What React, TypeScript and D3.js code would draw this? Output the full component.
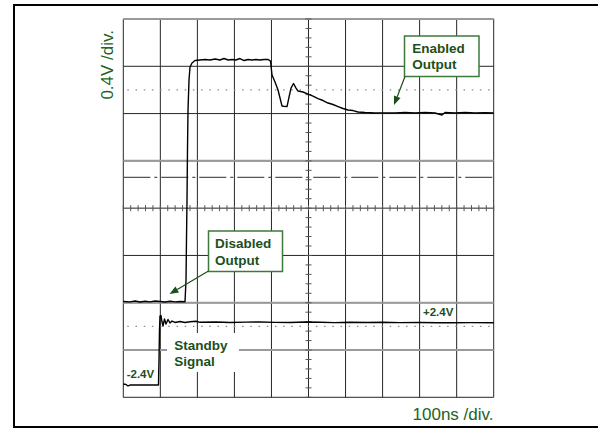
import React from 'react';
import * as d3 from 'd3';

// Time axis in ns (100 ns / div), vertical axis in screen divisions (0.4 V / div)
const timeTicks = d3.range(0, 1001, 100);
const divTicks = d3.range(0, 9, 1);
const emphasizedDivs = [1, 2, 5, 8];
const dottedLevels = [6.5, 1.5];
const dashDotLevel = 4.65;

const xLabel = '100ns /div.';
const yLabel = '0.4V /div.';

// "Enabled / Disabled Output" trace
const outputTime = [
  0, 18, 32, 45, 59, 72, 86, 99, 113, 126, 140, 153, 166.6, 169.3, 170.6, 172, 173.3, 174.7, 177.4, 180.1,
  185.5, 193.6, 207, 221, 234, 248, 261, 272, 283, 294, 304, 315, 326, 337, 348, 358, 369, 380, 391, 397.4,
  401.5, 409.6, 417.7, 423.1, 428.5, 433.9, 442, 447.4, 452.8, 459.5, 466.3, 471.7, 485.2, 498.7, 512.2,
  525.7, 539.2, 552.7, 566.2, 579.7, 593.2, 606.7, 620.1, 633.6, 652.5, 679.5, 706.5, 733.5, 760.5, 787.5,
  814.5, 841.5, 860.4, 868.5, 895.5, 922.5, 949.5, 976.5, 1000,
];
const outputDiv = [
  2.026, 2.019, 2.036, 2.015, 2.032, 2.019, 2.036, 2.026, 2.015, 2.03, 2.019, 2.026, 2.022, 2.48, 3.326, 4.172, 5.229, 6.075, 6.71, 6.985,
  7.07, 7.122, 7.133, 7.143, 7.133, 7.154, 7.133, 7.164, 7.133, 7.143, 7.133, 7.164, 7.122, 7.143, 7.133, 7.143, 7.133, 7.143, 7.143, 7.111,
  6.815, 6.667, 6.498, 6.329, 6.16, 6.153, 6.149, 6.35, 6.54, 6.636, 6.54, 6.477, 6.456, 6.413, 6.371,
  6.318, 6.276, 6.223, 6.192, 6.149, 6.107, 6.075, 6.064, 6.033, 6.022, 6.012, 6.012, 6.012, 6.022, 6.012,
  6.022, 6.012, 5.97, 6.022, 6.012, 6.022, 6.012, 6.016, 6.012,
];

// "Standby Signal" trace
const standbyTime = [
  0, 7.3, 12.7, 18.1, 31.6, 58.6, 85.6, 95, 96.4, 97.7, 99.1, 101.8, 104.5, 107.2, 111.2, 115.3, 120.7, 126.1,
  131.5, 139.6, 153.1, 166.6, 180.1, 196.3, 207.1, 250, 288.1, 330, 369.1, 410, 450.1, 490, 531.1, 570, 612.1,
  660, 700, 747, 800, 850, 882, 940, 1000,
];
const standbyDiv = [
  0.281, 0.271, 0.239, 0.26, 0.26, 0.26, 0.26, 0.26, 0.789, 1.423, 1.719, 1.73, 1.592, 1.508, 1.656, 1.55, 1.645, 1.571,
  1.613, 1.582, 1.603, 1.582, 1.597, 1.609, 1.586, 1.592, 1.582, 1.59, 1.592, 1.584, 1.582, 1.592, 1.586, 1.58, 1.586,
  1.582, 1.586, 1.58, 1.582, 1.578, 1.578, 1.58, 1.578,
];

const GREEN_AXIS = '#236323';
const GREEN_TEXT = '#1b4f1b';
const GREEN_BORDER = '#3c7a3c';
const FONT = '"Liberation Sans", Arial, Helvetica, sans-serif';

function Arrow({ x1, y1, x2, y2 }: { x1: number; y1: number; x2: number; y2: number }) {
  const ang = Math.atan2(y2 - y1, x2 - x1);
  const len = 9;
  const half = 3.5;
  const bx = x2 - len * Math.cos(ang);
  const by = y2 - len * Math.sin(ang);
  const px = -Math.sin(ang) * half;
  const py = Math.cos(ang) * half;
  return (
    <g>
      <line x1={x1} y1={y1} x2={bx} y2={by} stroke={GREEN_TEXT} strokeWidth={1.2} />
      <polygon points={`${x2},${y2} ${bx + px},${by + py} ${bx - px},${by - py}`} fill={GREEN_TEXT} />
    </g>
  );
}

export default function App() {
  const W = 598;
  const H = 429;
  const x = d3.scaleLinear().domain([0, 1000]).range([123.3, 493.7]);
  const y = d3.scaleLinear().domain([0, 8]).range([397.3, 19]);

  const line = d3
    .line<[number, number]>()
    .x((d) => x(d[0]))
    .y((d) => y(d[1]))
    .curve(d3.curveLinear);

  const outputPts: [number, number][] = outputTime.map((t, i) => [t, outputDiv[i]]);
  const standbyPts: [number, number][] = standbyTime.map((t, i) => [t, standbyDiv[i]]);

  const minorX = d3.range(0, 1000.1, 20);
  const minorY = d3.range(0, 8.01, 0.2);

  return (
    <svg width={W} height={H} style={{ position: 'absolute', left: 0, top: 0, background: '#fff' }} fontFamily={FONT}>
      <rect x={0} y={0} width={W} height={H} fill="#fff" />
      {/* outer frame */}
      <rect x={14} y={5} width={620} height={422} fill="none" stroke="#000" strokeWidth={2} />

      {/* grid */}
      {timeTicks.map((t) => (
        <line key={'v' + t} x1={x(t)} x2={x(t)} y1={y(0)} y2={y(8)} stroke="#262626" strokeWidth={1} />
      ))}
      {divTicks.map((d) => (
        <line key={'h' + d} x1={x(0)} x2={x(1000)} y1={y(d)} y2={y(d)} stroke="#262626" strokeWidth={1} />
      ))}
      {emphasizedDivs.map((d) => (
        <line key={'e' + d} x1={x(0)} x2={x(1000)} y1={y(d)} y2={y(d)} stroke="#9a9a9a" strokeWidth={2} />
      ))}
      {dottedLevels.map((d) => (
        <line key={'d' + d} x1={x(0) + 4} x2={x(1000)} y1={y(d)} y2={y(d)} stroke="#8a8a8a" strokeWidth={1.2} strokeDasharray="1.5 6.7" />
      ))}
      <line x1={x(0)} x2={x(1000)} y1={y(dashDotLevel)} y2={y(dashDotLevel)} stroke="#555" strokeWidth={1.2} strokeDasharray="27 4 3 4" />

      {/* center graticule ticks */}
      {minorX.map((t) => (
        <line key={'mx' + t} x1={x(t)} x2={x(t)} y1={y(4) - 3} y2={y(4) + 3} stroke="#555" strokeWidth={1} />
      ))}
      {minorY.map((d) => (
        <line key={'my' + d.toFixed(1)} x1={x(500) - 3} x2={x(500) + 3} y1={y(d)} y2={y(d)} stroke="#555" strokeWidth={1} />
      ))}

      {/* traces */}
      <path d={line(outputPts) || ''} fill="none" stroke="#000" strokeWidth={1.4} strokeLinejoin="round" />
      <path d={line(standbyPts) || ''} fill="none" stroke="#000" strokeWidth={1.4} strokeLinejoin="round" />

      {/* axis labels */}
      <text x={493.5} y={419.5} textAnchor="end" fontSize={17} fill={GREEN_AXIS}>
        {xLabel}
      </text>
      <text transform="translate(113,64.8) rotate(-90)" textAnchor="middle" fontSize={17} fill={GREEN_AXIS}>
        {yLabel}
      </text>

      {/* Enabled Output annotation */}
      <rect x={404.5} y={36} width={74.5} height={40.5} fill="#fff" stroke={GREEN_BORDER} strokeWidth={1.5} />
      <text x={412.3} y={52.7} fontSize={13.5} fontWeight="bold" fill={GREEN_TEXT}>Enabled</text>
      <text x={412.3} y={68.5} fontSize={13.5} fontWeight="bold" fill={GREEN_TEXT}>Output</text>
      <Arrow x1={405} y1={76.5} x2={x(730.8)} y2={y(6.18)} />

      {/* Disabled Output annotation */}
      <rect x={208.5} y={231} width={74} height={40.5} fill="#fff" stroke={GREEN_BORDER} strokeWidth={1.5} />
      <text x={215} y={247.5} fontSize={13.5} fontWeight="bold" fill={GREEN_TEXT}>Disabled</text>
      <text x={215} y={264.5} fontSize={13.5} fontWeight="bold" fill={GREEN_TEXT}>Output</text>
      <Arrow x1={208.5} y1={271} x2={x(124.7)} y2={y(2.184)} />

      {/* Standby Signal label */}
      <rect x={167} y={333} width={72} height={39} fill="#fff" />
      <text x={174.3} y={349.5} fontSize={13.5} fontWeight="bold" fill={GREEN_TEXT}>Standby</text>
      <text x={174.3} y={366.3} fontSize={13.5} fontWeight="bold" fill={GREEN_TEXT}>Signal</text>

      {/* level labels */}
      <rect x={124} y={364} width={33} height={18} fill="#fff" />
      <text x={126.7} y={378} fontSize={11.5} fontWeight="bold" fill={GREEN_TEXT}>-2.4V</text>
      <text x={423} y={316} fontSize={11.5} fontWeight="bold" fill={GREEN_TEXT}>+2.4V</text>
    </svg>
  );
}
